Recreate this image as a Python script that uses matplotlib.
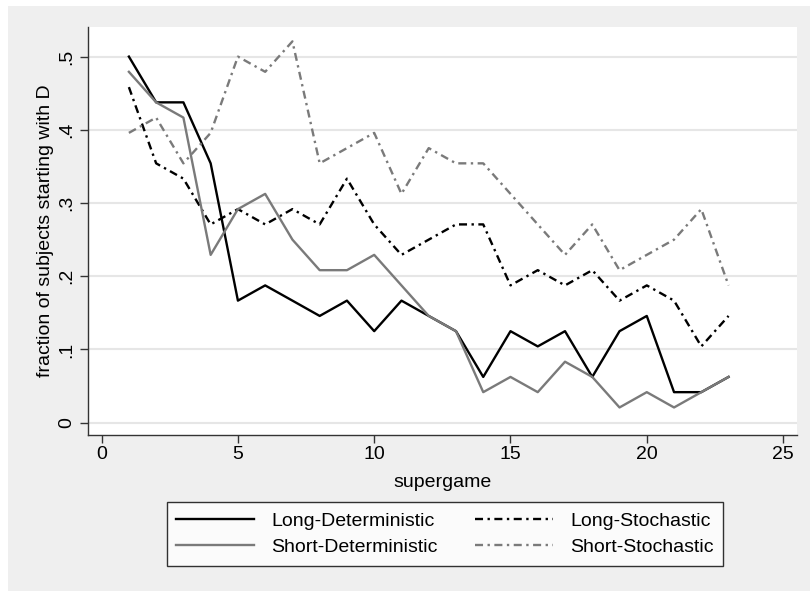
import matplotlib
matplotlib.use("Agg")
import matplotlib.pyplot as plt
from matplotlib.patches import Rectangle
from matplotlib.lines import Line2D

plt.rcParams['font.family'] = ['Liberation Sans', 'DejaVu Sans']

supergame = list(range(1, 24))
long_det = [0.5, 0.4375, 0.4375, 0.3542, 0.1667, 0.1875, 0.1667, 0.1458, 0.1667, 0.125,
            0.1667, 0.1458, 0.125, 0.0625, 0.125, 0.1042, 0.125, 0.0625, 0.125, 0.1458,
            0.0417, 0.0417, 0.0625]
short_det = [0.4792, 0.4375, 0.4167, 0.2292, 0.2917, 0.3125, 0.25, 0.2083, 0.2083, 0.2292,
             0.1875, 0.1458, 0.125, 0.0417, 0.0625, 0.0417, 0.0833, 0.0625, 0.0208, 0.0417,
             0.0208, 0.0417, 0.0625]
long_sto = [0.4583, 0.3542, 0.3333, 0.2708, 0.2917, 0.2708, 0.2917, 0.2708, 0.3333, 0.2708,
            0.2292, 0.25, 0.2708, 0.2708, 0.1875, 0.2083, 0.1875, 0.2083, 0.1667, 0.1875,
            0.1667, 0.1042, 0.1458]
short_sto = [0.3958, 0.4167, 0.3542, 0.3958, 0.5, 0.4792, 0.5208, 0.3542, 0.375, 0.3958,
             0.3125, 0.375, 0.3542, 0.3542, 0.3125, 0.2708, 0.2292, 0.2708, 0.2083, 0.2292,
             0.25, 0.2917, 0.1875]

xticks = [0, 5, 10, 15, 20, 25]
yticks = [0, 0.1, 0.2, 0.3, 0.4, 0.5]
ytick_labels = ['0', '.1', '.2', '.3', '.4', '.5']

W, H = 810, 591
FS = 14
fig = plt.figure(figsize=(W / 100, H / 100), dpi=100, facecolor='white')
fig.patches.append(Rectangle((8 / W, 0), 1 - 8 / W, 1 - 6 / H, transform=fig.transFigure,
                             facecolor='#EFEFEF', edgecolor='none', zorder=-10))

ax = fig.add_axes([88 / W, (H - 434.7) / H, (796.7 - 88) / W, (434.7 - 27.3) / H])
ax.set_facecolor('white')

dd = (0, (3.4, 1.9, 1.0, 1.9))
black = '#000000'
gray = '#7A7A7A'
lw = 1.7
ax.plot(supergame, long_det, color=black, lw=lw, ls='-', label='Long-Deterministic', zorder=3)
ax.plot(supergame, long_sto, color=black, lw=lw, ls=dd, label='Long-Stochastic', zorder=3)
ax.plot(supergame, short_det, color=gray, lw=lw, ls='-', label='Short-Deterministic', zorder=3)
ax.plot(supergame, short_sto, color=gray, lw=lw, ls=dd, label='Short-Stochastic', zorder=3)

ax.set_xlim(-0.5, 25.5)
ax.set_ylim(-0.0164, 0.540)
ax.set_xticks(xticks)
ax.set_yticks(yticks)
ax.set_yticklabels(ytick_labels, rotation=90, va='center')
ax.tick_params(axis='both', direction='out', length=6, width=1, color='#333333',
               labelsize=FS, labelcolor='black')
ax.tick_params(axis='y', pad=3)
ax.tick_params(axis='x', pad=2)
for s in ['top', 'right']:
    ax.spines[s].set_visible(False)
for s in ['left', 'bottom']:
    ax.spines[s].set_color('#333333')
    ax.spines[s].set_linewidth(1)
ax.yaxis.grid(True, color='#E6E6E6', lw=1.5, zorder=0)
ax.set_axisbelow(True)

ax.set_xlabel('supergame', fontsize=FS, labelpad=8)
ax.set_ylabel('fraction of subjects starting with D', fontsize=FS, labelpad=3)

handles = [
    Line2D([], [], color=black, lw=lw, ls='-'),
    Line2D([], [], color=gray, lw=lw, ls='-'),
    Line2D([], [], color=black, lw=lw, ls=dd),
    Line2D([], [], color=gray, lw=lw, ls=dd),
]
labels = ['Long-Deterministic', 'Short-Deterministic', 'Long-Stochastic', 'Short-Stochastic']
leg = fig.legend(handles, labels, ncol=2, loc='center',
                 bbox_to_anchor=((162 + 728) / 2 / W, 1 - 534 / H),
                 frameon=True, fancybox=False, edgecolor='black', facecolor='white',
                 fontsize=FS, handlelength=4.0, handletextpad=0.9, columnspacing=1.9,
                 labelspacing=0.45, borderpad=0.5, borderaxespad=0)
leg.get_frame().set_linewidth(1)

fig.savefig('out.png', dpi=100, facecolor='white')
